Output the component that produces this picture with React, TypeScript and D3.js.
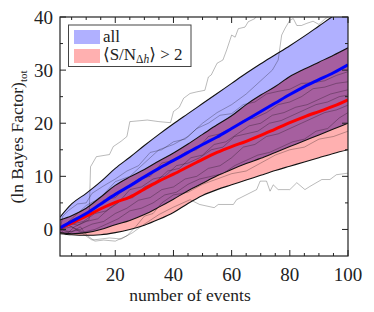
import React from "react";
import * as d3 from "d3";

// band / median curves sampled every 5 events
const EVENTS = [1, 5, 10, 15, 20, 25, 30, 35, 40, 45, 50, 55, 60, 65, 70, 75, 80, 85, 90, 95, 100];
const ALL_UPPER = [2.3, 4.8, 6.8, 9.0, 11.5, 13.6, 15.8, 17.9, 19.9, 21.8, 23.7, 25.6, 27.5, 29.4, 31.2, 32.9, 34.6, 36.4, 38.3, 40.2, 41.8];
const ALL_LOWER = [-0.6, -0.8, -0.6, 0.0, 0.9, 1.7, 2.8, 4.2, 5.7, 7.3, 8.7, 10.1, 11.3, 12.4, 13.4, 14.5, 15.6, 16.7, 17.8, 18.9, 20.0];
const ALL_MEDIAN = [0.3, 1.5, 3.0, 4.8, 6.6, 8.2, 9.9, 11.5, 13.0, 14.5, 16.0, 17.4, 19.0, 20.6, 22.2, 23.8, 25.4, 26.9, 28.2, 29.5, 31.0];
const SNR_UPPER = [1.8, 2.6, 4.0, 6.1, 8.3, 9.9, 11.3, 12.9, 14.4, 16.1, 17.9, 19.7, 21.4, 23.5, 25.3, 26.9, 28.8, 30.2, 31.5, 32.8, 34.2];
const SNR_LOWER = [-0.8, -1.0, -1.1, -1.0, -0.6, 0.0, 0.8, 1.9, 3.2, 4.9, 6.4, 7.5, 8.4, 9.3, 10.2, 11.1, 11.9, 12.7, 13.5, 14.3, 15.0];
const SNR_MEDIAN = [0.3, 1.2, 2.5, 3.9, 5.1, 6.1, 7.6, 9.1, 10.4, 11.8, 13.2, 14.5, 15.6, 16.6, 17.7, 18.9, 20.1, 21.2, 22.2, 23.2, 24.4];

// individual realizations [event, ln BF]
const REALIZATIONS: [number, number][][] = [
  [[1, 0], [4, 1.2], [7, 0.8], [10, 1.6], [11, 1.8], [11.5, 11.8], [13.5, 13.7], [18, 14.1], [19.3, 15.6], [22, 16.6], [24, 17.5], [25, 20.3], [31, 20.6], [35, 20.3], [39, 20.1], [40, 22.2], [42, 23], [43.5, 24.7], [45.7, 25.6], [48, 25.9], [50.8, 26.2], [52, 28.7], [53, 29.1], [55, 31.3], [57, 31.9], [58.3, 33.8], [60, 36.6], [61.2, 36.2], [62.3, 37.8], [64.6, 38.1], [65.7, 39.1], [68, 39.7], [69, 40.6], [72, 41.5]],
  [[1, 0], [5, 2], [10, 4.5], [15, 6], [20, 9], [25, 10], [30, 12.5], [35, 15], [40, 16], [45, 17.5], [50, 20], [55, 22], [60, 23.5], [65, 25.5], [70, 28], [74, 30], [76, 31.9], [77.2, 36.6], [78.3, 37.8], [80, 39.4], [81.2, 39.7], [82.4, 38.4], [84, 38.4], [85.8, 38.8], [88, 39.2], [90, 38.6], [92, 39.6], [94, 40.3], [100, 41.5]],
  [[1, 0], [4, 0.8], [8, -0.5], [12, -2], [18, -1.6], [22, -1.8], [26, -0.6], [30, 1], [35, 2.8], [40, 4.2], [45.7, 5.6], [49, 4.7], [54, 4.1], [55.4, 4.7], [60.6, 4.7], [61.7, 5.6], [68.6, 7.5], [69.8, 9.1], [72, 9.1], [73.2, 7.2], [74.3, 8.4], [76, 7.5], [80, 7.5], [82.4, 8.8], [85.2, 7.5], [86.9, 8.1], [91, 9.4], [93.8, 9.4], [96, 10.3], [100, 10.6]],
  [[1, 0], [5, -0.5], [8, 0.5], [10, -1], [13, -2.2], [16, -2], [20, -2.2], [24, -1.2], [27, 0.5], [30, 2.5], [33, 3], [36, 5], [40, 6.5], [45, 7], [50, 8.5], [55, 9.5], [60, 10.5], [65, 11], [70, 12.5], [75, 14], [80, 15], [85, 15.5], [90, 17], [95, 17.5], [100, 18.5]],
  [[1, 0], [2, 2.5], [4, 3.6], [7, 4.8], [10, 5], [12, 6.8], [16, 8.2], [20, 9.5], [24, 11], [28, 12], [32, 14.5], [36, 15], [40, 16.5], [44, 17], [48, 19], [52, 20], [56, 21.5], [60, 21.8], [64, 23.5], [68, 24], [72, 25.5], [76, 26], [80, 26.4], [84, 27.5], [88, 27.6], [92, 28], [96, 29], [100, 29.7]],
  [[1, 0], [4, 1.5], [8, 2.5], [12, 3.5], [16, 5.5], [20, 6], [24, 8], [28, 9.5], [32, 10], [36, 12.5], [40, 13], [44, 14.5], [48, 15], [52, 17.5], [56, 18], [60, 19], [64, 20.5], [68, 21], [72, 22], [76, 23.5], [80, 24], [84, 25], [88, 26.5], [92, 26.8], [96, 27.5], [100, 27.8]],
  [[1, 0], [3, -1], [6, 0.5], [10, 1.5], [14, 2], [18, 4], [22, 5.5], [26, 6], [30, 8], [34, 9], [38, 11], [42, 11.5], [46, 13.5], [50, 14], [54, 16], [58, 16.5], [62, 18], [66, 19.5], [70, 20], [74, 21.5], [78, 22], [82, 23], [86, 23.5], [90, 24.5], [94, 25.5], [100, 26.3]],
  [[1, 0], [5, 1], [9, 1.5], [13, 3], [17, 3.5], [21, 5], [25, 7.5], [29, 8], [33, 9.5], [37, 10], [41, 12], [45, 12.5], [49, 13.5], [53, 15], [57, 15.5], [61, 17.5], [65, 18], [69, 18.5], [73, 20], [77, 20.5], [81, 21.5], [85, 22.5], [89, 23.5], [93, 24], [97, 25], [100, 25.3]],
  [[1, 0], [4, -0.5], [8, 0], [12, 1], [16, 1.5], [20, 3], [24, 4], [28, 5.5], [32, 6], [36, 7.5], [40, 8], [44, 9.5], [48, 10], [52, 11.5], [56, 12], [60, 13.5], [64, 15.5], [68, 16], [72, 17.5], [76, 18], [80, 19], [84, 20], [88, 21], [92, 22], [96, 22.5], [100, 23.4]],
  [[1, 0], [5, 0.5], [9, -0.5], [13, 0], [17, 1], [21, 2], [25, 3.5], [29, 4], [33, 5], [37, 6.5], [41, 7], [45, 8.5], [49, 9.5], [53, 10], [57, 10.5], [61, 12], [65, 13], [69, 14], [73, 14.5], [77, 15.5], [81, 16.5], [85, 17], [89, 18.5], [93, 19], [97, 21], [100, 22]],
];

const X_TICKS = [20, 40, 60, 80, 100];
const Y_TICKS = [0, 10, 20, 30, 40];

const FONT = "'Liberation Serif', 'Times New Roman', 'DejaVu Serif', serif";

export default function App() {
  document.body.style.margin = "0";
  const width = 374;
  const height = 312;
  const margin = { top: 17, right: 26, bottom: 56, left: 60 };

  const x = d3.scaleLinear().domain([1, 100]).range([margin.left, width - margin.right]);
  const y = d3.scaleLinear().domain([-5, 40]).range([height - margin.bottom, margin.top]);

  const band = (lo: number[], hi: number[]) =>
    d3
      .area<number>()
      .x((d) => x(d))
      .y0((_, i) => y(lo[i]))
      .y1((_, i) => y(hi[i]))
      .curve(d3.curveMonotoneX)(EVENTS) || "";

  const curve = (vals: number[]) =>
    d3
      .line<number>()
      .x((d) => x(d))
      .y((_, i) => y(vals[i]))
      .curve(d3.curveMonotoneX)(EVENTS) || "";

  const overlapLo = EVENTS.map((_, i) => Math.max(ALL_LOWER[i], SNR_LOWER[i]));
  const overlapHi = EVENTS.map((_, i) => Math.min(ALL_UPPER[i], SNR_UPPER[i]));

  const walk = d3
    .line<[number, number]>()
    .x((d) => x(d[0]))
    .y((d) => y(d[1]));

  const [x0, x1] = x.range();
  const [y0, y1] = y.range();
  const xMinor = d3.range(5, 100, 5).filter((v) => !X_TICKS.includes(v));
  const yMinor = d3.range(5, 40, 5).filter((v) => !Y_TICKS.includes(v));

  return (
    <svg width={width} height={height} style={{ display: "block", fontFamily: FONT }}>
      <defs>
        <clipPath id="plot">
          <rect x={x0} y={y1} width={x1 - x0} height={y0 - y1} />
        </clipPath>
      </defs>
      <rect width={width} height={height} fill="white" />

      <g clipPath="url(#plot)">
        <path d={band(ALL_LOWER, ALL_UPPER)} fill="#b0b0ff" />
        <path d={band(SNR_LOWER, SNR_UPPER)} fill="#ffb0b0" />
        <path d={band(overlapLo, overlapHi)} fill="#a65f9f" />

        {REALIZATIONS.map((r, i) => (
          <path key={i} d={walk(r) || ""} fill="none" stroke="#000" strokeOpacity={0.27} strokeWidth={1} />
        ))}

        {[ALL_UPPER, ALL_LOWER, SNR_UPPER, SNR_LOWER].map((v, i) => (
          <path key={i} d={curve(v)} fill="none" stroke="#111" strokeWidth={1.1} />
        ))}
        <path d={curve(SNR_MEDIAN)} fill="none" stroke="#ff0000" strokeWidth={3} />
        <path d={curve(ALL_MEDIAN)} fill="none" stroke="#0000ff" strokeWidth={3} />
      </g>

      {/* ticks on all four sides, pointing inward */}
      <g stroke="#222" strokeWidth={1}>
        {X_TICKS.map((t) => (
          <g key={t}>
            <line x1={x(t)} x2={x(t)} y1={y0} y2={y0 - 6} />
            <line x1={x(t)} x2={x(t)} y1={y1} y2={y1 + 6} />
          </g>
        ))}
        {xMinor.map((t) => (
          <g key={t}>
            <line x1={x(t)} x2={x(t)} y1={y0} y2={y0 - 3} />
            <line x1={x(t)} x2={x(t)} y1={y1} y2={y1 + 3} />
          </g>
        ))}
        {Y_TICKS.map((t) => (
          <g key={t}>
            <line x1={x0} x2={x0 + 6} y1={y(t)} y2={y(t)} />
            <line x1={x1} x2={x1 - 6} y1={y(t)} y2={y(t)} />
          </g>
        ))}
        {yMinor.map((t) => (
          <g key={t}>
            <line x1={x0} x2={x0 + 3} y1={y(t)} y2={y(t)} />
            <line x1={x1} x2={x1 - 3} y1={y(t)} y2={y(t)} />
          </g>
        ))}
      </g>
      <rect x={x0} y={y1} width={x1 - x0} height={y0 - y1} fill="none" stroke="#222" strokeWidth={1.2} />

      <g fontSize={19} fill="#222">
        {X_TICKS.map((t) => (
          <text key={t} x={x(t)} y={281} textAnchor="middle">
            {t}
          </text>
        ))}
        {Y_TICKS.map((t) => (
          <text key={t} x={53} y={y(t) + 6.5} textAnchor="end">
            {t}
          </text>
        ))}
      </g>

      <text x={190} y={301} textAnchor="middle" fontSize={17.5} fill="#222">
        number of events
      </text>
      <text transform="translate(23,137) rotate(-90)" textAnchor="middle" fontSize={17.5} fill="#222">
        (ln Bayes Factor)
        <tspan fontSize={11} dy={4}>
          tot
        </tspan>
      </text>

      {/* legend */}
      <g>
        <rect x={68.5} y={25} width={122.5} height={41.5} fill="white" stroke="#444" strokeWidth={1} />
        <rect x={74} y={30} width={26} height={14} fill="#b0b0ff" />
        <rect x={74} y={49} width={26} height={14} fill="#ffb0b0" />
        <text x={103} y={41.5} fontSize={17} fill="#222">
          all
        </text>
        <text x={103} y={59.5} fontSize={17} fill="#222">
          {"\u27E8S/N"}
          <tspan fontSize={11.5} dy={3.5}>
            Δ<tspan fontStyle="italic">h</tspan>
          </tspan>
          <tspan dy={-3.5}>{"\u27E9 > 2"}</tspan>
        </text>
      </g>
    </svg>
  );
}
